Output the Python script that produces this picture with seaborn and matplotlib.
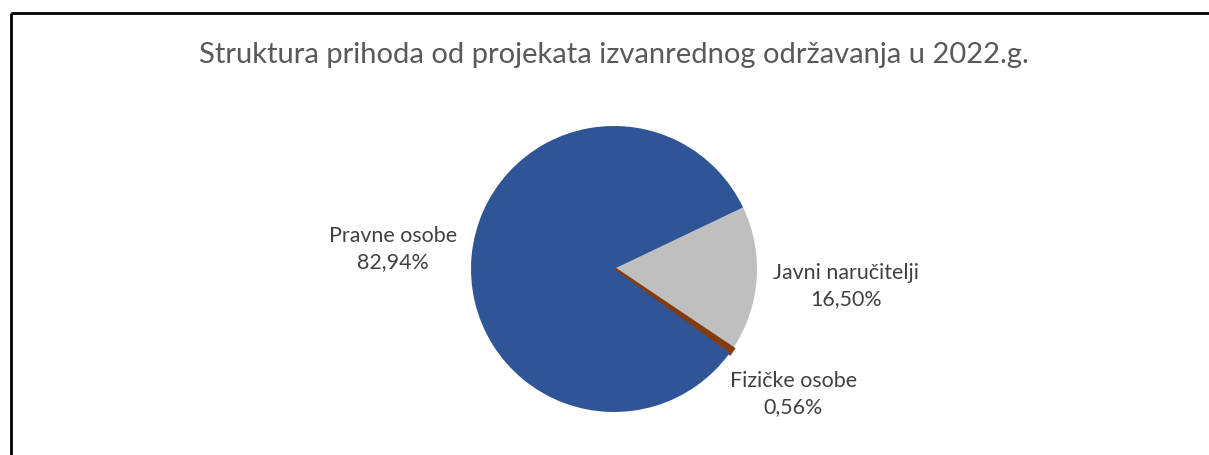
import matplotlib
matplotlib.use("Agg")
import matplotlib.pyplot as plt
import seaborn as sns
import numpy as np
from matplotlib.lines import Line2D

# Data
categories = ["Javni naručitelji", "Fizičke osobe", "Pravne osobe"]
shares = [16.50, 0.56, 82.94]
share_labels = ["16,50%", "0,56%", "82,94%"]
slice_colors = ["#BFBFBF", "#843C0C", "#2F5597"]
title = "Struktura prihoda od projekata izvanrednog održavanja u 2022.g."

sns.set_theme(style="white")
plt.rcParams["font.family"] = ["Lato", "DejaVu Sans"]

W, H = 1209, 455
fig = plt.figure(figsize=(W / 100, H / 100), dpi=100)
ax = fig.add_axes([0, 0, 1, 1])

center = (614, H - 269)
radius = 143
start = 25.5

wedges, _ = ax.pie(shares, colors=slice_colors, startangle=start, counterclock=False,
                   center=center, radius=radius, frame=True,
                   wedgeprops=dict(linewidth=0))
# the tiny slice gets an outline so it reads as a thin stripe, like in Excel
wedges[1].set_edgecolor(slice_colors[1])
wedges[1].set_linewidth(3)

ax.set_xlim(0, W)
ax.set_ylim(0, H)
ax.set_aspect("equal")
ax.axis("off")

# label distance (in radii) per slice, similar to Excel best-fit placement
label_dist = [1.63, 1.53, 1.55]
for w, name, lab, d in zip(wedges, categories, share_labels, label_dist):
    mid = np.deg2rad((w.theta1 + w.theta2) / 2)
    x = center[0] + d * radius * np.cos(mid)
    y = center[1] + d * radius * np.sin(mid)
    ax.text(x, y, f"{name}\n{lab}", ha="center", va="center",
            fontsize=15.4, color="#404040", linespacing=1.35)

fig.text(614 / W, 1 - 55 / H, title, ha="center", va="center",
         fontsize=21, color="#595959")

# chart border (left and top edges visible)
fig.add_artist(Line2D([10.5 / W, 10.5 / W], [0, 1 - 12.5 / H], color="black", lw=2,
                      solid_capstyle="butt", transform=fig.transFigure))
fig.add_artist(Line2D([10.5 / W, 1], [1 - 12.5 / H, 1 - 12.5 / H], color="black", lw=2,
                      solid_capstyle="butt", transform=fig.transFigure))

fig.savefig("out.png", dpi=100)
